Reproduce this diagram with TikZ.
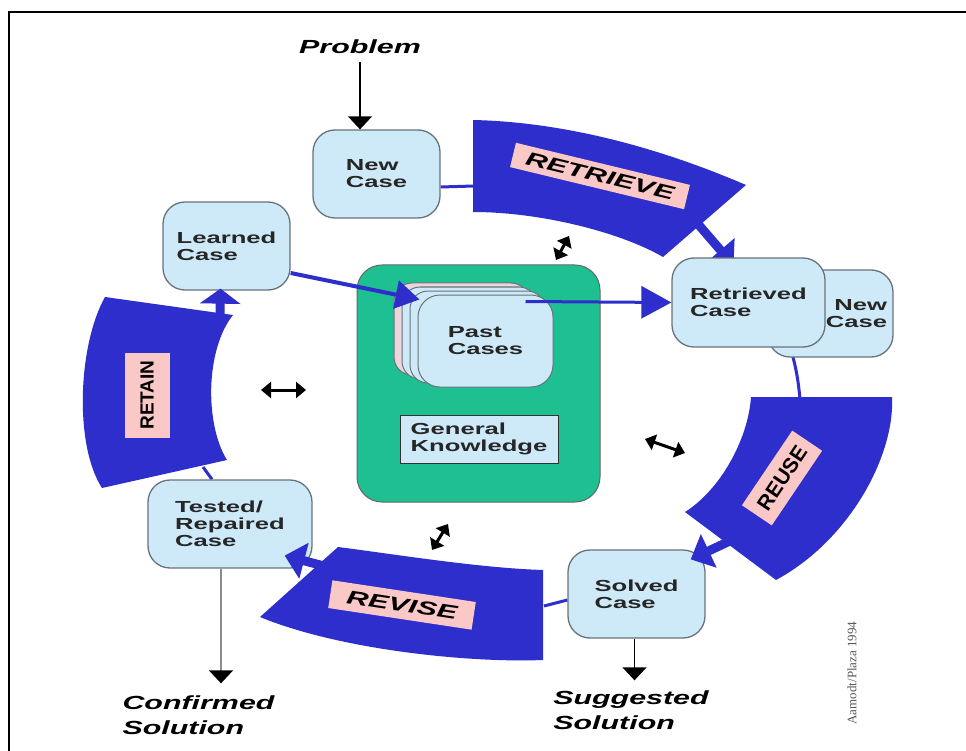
\documentclass[tikz,border=0pt]{standalone}
\usepackage{fontspec}
\setmainfont{Liberation Sans}
\newfontfamily\widesans[FakeStretch=1.6]{Liberation Sans}
\newfontfamily\credfont{Liberation Serif}
\usetikzlibrary{arrows.meta}
\pgfdeclarelayer{bg}
\pgfsetlayers{bg,main}
\definecolor{bandblue}{RGB}{46,46,204}
\definecolor{pinkl}{RGB}{250,200,198}
\definecolor{boxb}{RGB}{206,233,248}
\definecolor{boxd}{RGB}{105,115,125}
\definecolor{kbg}{RGB}{30,192,145}
\definecolor{stackpink}{RGB}{236,214,220}
\tikzset{
  casebox/.style={draw=boxd, line width=1.3pt, fill=boxb, rounded corners=22pt, align=left,
    font=\widesans\bfseries\fontsize{16}{17}\selectfont, text=black!85, inner sep=0pt},
  stackbox/.style={draw=boxd, line width=1pt, fill=boxb, rounded corners=18pt,
    minimum width=135pt, minimum height=92pt, inner sep=0pt},
  pinkbox/.style={fill=pinkl, inner sep=0pt, text=black},
  bigital/.style={font=\widesans\bfseries\itshape\fontsize{19}{25}\selectfont, align=left, inner sep=0pt},
  thinlink/.style={draw=bandblue, line width=3pt},
  bandarrow/.style={draw=bandblue, line width=9pt, -{Triangle[length=20pt,width=36pt]}},
  linkarrow/.style={draw=bandblue, line width=4pt, -{Triangle[length=24pt,width=28pt]}},
  blkarrow/.style={draw=black, line width=1.5pt, -{Triangle[length=13pt,width=24pt]}},
  dblarrow/.style={draw=black, line width=3pt, {Triangle[length=10pt,width=16pt]}-{Triangle[length=10pt,width=16pt]}}
}
\begin{document}
\begin{tikzpicture}[x=1pt,y=-1pt]
\useasboundingbox (0,0) rectangle (966,751);

% band anchor coordinates
\coordinate (retrL) at (474,186);
\coordinate (retrA) at (698,224);
\coordinate (reuseT) at (800,399);
\coordinate (reuseA) at (732,540);
\coordinate (revR) at (544,606);
\coordinate (revA) at (324,566);
\coordinate (retB) at (203,467);
\coordinate (retA) at (220,316);

\begin{pgfonlayer}{bg}
\fill[white] (0,0) rectangle (966,751);
\draw[line width=2pt] (9,751) -- (9,12) -- (966,12);
% RETRIEVE band
\fill[bandblue] (473,120) .. controls (565,122) and (660,148) .. (746,185) -- (663,257)
   .. controls (620,232) and (540,212) .. (473,212) -- cycle;
% REUSE band
\fill[bandblue] (751,397) -- (892,397) .. controls (895,455) and (850,540) .. (776,580)
   -- (685,512) .. controls (720,490) and (748,440) .. (751,397) -- cycle;
% REVISE band
\fill[bandblue] (543,570) -- (543,660) .. controls (470,663) and (340,650) .. (260,617)
   -- (338,547) .. controls (400,555) and (480,568) .. (543,570) -- cycle;
% RETAIN band
\fill[bandblue] (105,297) .. controls (78,345) and (74,445) .. (102,488) -- (227,460)
   .. controls (205,425) and (205,350) .. (233,315) -- cycle;

\node[pinkbox, minimum width=179pt, minimum height=25pt, rotate=-13.6,
  font=\widesans\bfseries\itshape\fontsize{19}{20}\selectfont] (lretrieve) at (600,176) {RETRIEVE};
\node[pinkbox, minimum width=145pt, minimum height=28pt, rotate=-8.6,
  font=\widesans\bfseries\itshape\fontsize{19}{20}\selectfont] (lrevise) at (402,605) {REVISE};
\node[pinkbox, minimum width=90pt, minimum height=36pt, rotate=56,
  font=\bfseries\fontsize{21}{22}\selectfont] (lreuse) at (782,478) {REUSE};
\node[pinkbox, minimum width=85pt, minimum height=45pt, rotate=90,
  font=\bfseries\fontsize{19}{20}\selectfont] (lretain) at (147,395) {RETAIN};
\end{pgfonlayer}

% knowledge base
\node[draw=black!60, line width=1pt, fill=kbg, rounded corners=25pt, minimum width=243pt,
  minimum height=237pt, inner sep=0pt] (kb) at (478.5,383.5) {};
\node[draw=black!80, line width=1pt, fill=boxb, minimum width=158pt, minimum height=48pt,
  inner sep=0pt, align=left, font=\widesans\bfseries\fontsize{16}{17}\selectfont, text=black!85]
  (gk) at (479,439) {General\\Knowledge};
\node[stackbox, fill=stackpink] (past3) at (461.5,329) {};
\node[stackbox] (past2) at (469.5,333) {};
\node[stackbox] (past1) at (477.5,337) {};
\node[casebox, minimum width=135pt, minimum height=92pt, line width=1pt] (past) at (485.5,341) {Past\\Cases};

% case boxes
\node[casebox, minimum width=127pt, minimum height=88pt] (new) at (376.5,174) {New\\Case};
\node[casebox, minimum width=127pt, minimum height=88pt] (learned) at (226.5,246) {Learned\\Case};
\node[casebox, minimum width=125pt, minimum height=87pt, text width=113pt, align=right] (newb) at (830.5,313.5) {New\\Case};
\node[casebox, minimum width=153pt, minimum height=89pt] (retrieved) at (748.5,302.5) {Retrieved\\Case};
\node[casebox, minimum width=137pt, minimum height=88pt] (solved) at (636.5,594) {Solved\\Case};
\node[casebox, minimum width=164pt, minimum height=88pt] (tested) at (230,524) {Tested/\\Repaired\\Case};

% outer texts
\node[bigital] (problem) at (360,47) {Problem};
\node[bigital] (confirmed) at (198.5,715) {Confirmed\\Solution};
\node[bigital] (suggested) at (631,710) {Suggested\\Solution};
\node[rotate=90, inner sep=0pt, font=\credfont\fontsize{13}{14}\selectfont, text=black!65] (credit) at (852,673) {Aamodt/Plaza 1994};

\begin{pgfonlayer}{bg}
\draw[thinlink] ([yshift=-13pt]new.east) -- (retrL);
\draw[thinlink] ([xshift=42pt]retrieved.south) .. controls +(6,22) and +(-2,-20) .. (reuseT);
\draw[thinlink] ([yshift=-6pt]solved.west) -- (revR);
\draw[thinlink] (retB) -- ([xshift=-18pt]tested.north);
\draw[bandarrow] (retrA) -- ([xshift=-15pt,yshift=-8pt]retrieved.north);
\end{pgfonlayer}

\draw[bandarrow] (reuseA) -- ([xshift=-15pt,yshift=-10pt]solved.north east);
\draw[bandarrow] (revA) -- ([xshift=-28pt,yshift=13pt]tested.south east);
\draw[bandarrow, -{Triangle[length=15pt,width=40pt]}] (retA) -- ([xshift=-6pt,yshift=2pt]learned.south);

\draw[linkarrow] ([yshift=-27pt]learned.east) -- ([xshift=2pt,yshift=-5pt]past.north west);
\draw[linkarrow, line width=3pt, -{Triangle[length=30pt,width=32pt]}] ([xshift=-28pt,yshift=-7pt]past.north east) -- (retrieved.west);

\draw[blkarrow, shorten <=8pt] (problem.south) -- (problem.south |- new.north);
\draw[blkarrow, draw=black!45, -{Triangle[length=13pt,width=24pt,color=black]}, shorten >=12pt]
  ([xshift=-9pt]tested.south) -- ([xshift=-9pt]tested.south |- confirmed.north);
\draw[blkarrow, shorten >=10pt] ([xshift=-2pt]solved.south) -- ([xshift=-2pt]solved.south |- suggested.north);

% double arrows
\coordinate (d1a) at (556,260); \coordinate (d1b) at (569,236);
\coordinate (d2a) at (261,390); \coordinate (d2b) at (306,390);
\coordinate (d3a) at (645,439); \coordinate (d3b) at (685,453);
\coordinate (d4a) at (432,550); \coordinate (d4b) at (448,524);
\draw[dblarrow] (d1a) -- (d1b);
\draw[dblarrow] (d2a) -- (d2b);
\draw[dblarrow] (d3a) -- (d3b);
\draw[dblarrow] (d4a) -- (d4b);
\end{tikzpicture}
\end{document}
